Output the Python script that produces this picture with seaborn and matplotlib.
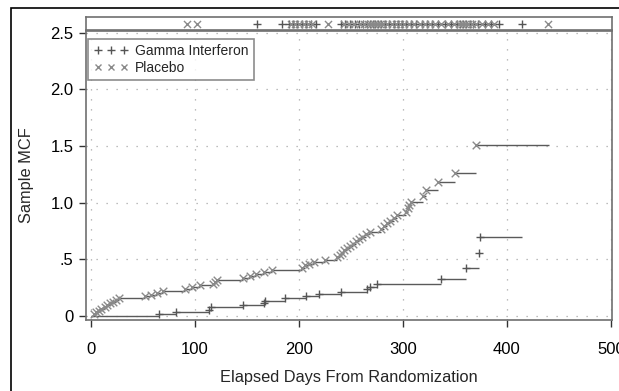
import matplotlib
matplotlib.use("Agg")
import pandas as pd
import matplotlib.pyplot as plt
import seaborn as sns
from matplotlib.lines import Line2D
from matplotlib.patches import Rectangle

# event times and sample MCF after each event
gamma_days = [65, 82, 113, 115, 146, 166, 167, 187, 207, 219, 240,
              265, 268, 275, 337, 361, 373, 374]
gamma_mcf = [0.017, 0.035, 0.056, 0.077, 0.097, 0.117, 0.137, 0.16, 0.18,
             0.195, 0.21, 0.235, 0.255, 0.28, 0.33, 0.42, 0.56, 0.70]
gamma_end = 414

placebo_days = [3, 5, 8, 10, 13, 15, 18, 21, 24, 27,
                52, 58, 63, 69,
                90, 97, 105,
                117, 119, 121,
                146, 153, 159, 166, 174,
                203, 206, 210, 214,
                225,
                237, 239, 241, 243, 246, 249, 252, 255, 258, 261, 264, 268,
                279, 282, 285, 288, 291, 294,
                303, 305, 306, 308,
                319, 322, 334, 350, 370]
placebo_mcf = [0.016, 0.032, 0.048, 0.064, 0.08, 0.096, 0.112, 0.128, 0.144, 0.16,
               0.175, 0.19, 0.205, 0.22,
               0.237, 0.253, 0.27,
               0.287, 0.304, 0.32,
               0.338, 0.356, 0.374, 0.392, 0.41,
               0.428, 0.446, 0.463, 0.48,
               0.498,
               0.518, 0.539, 0.56, 0.58, 0.6, 0.62, 0.64, 0.66, 0.68, 0.70, 0.722, 0.745,
               0.77, 0.794, 0.818, 0.842, 0.866, 0.89,
               0.92, 0.95, 0.98, 1.01,
               1.06, 1.11, 1.18, 1.26, 1.51]
placebo_end = 440

# end of follow-up (top strip)
gamma_censor = [160, 184, 190, 194, 198, 203, 207, 212, 216, 240, 244, 249,
                254, 258, 262, 265, 268, 271, 273, 276, 279, 283, 287, 291,
                295, 299, 303, 308, 313, 318, 323, 328, 334, 340, 346, 352,
                355, 358, 361, 364, 367, 372, 379, 385, 392, 414]
placebo_censor = [92, 102, 192, 196, 200, 205, 209, 213, 228, 243, 248, 253,
                  259, 263, 266, 269, 272, 275, 278, 281, 285, 289, 293, 297,
                  301, 306, 311, 316, 321, 326, 331, 337, 343, 349, 354, 357,
                  360, 363, 366, 370, 376, 382, 388, 439]

x_ticks = [0, 100, 200, 300, 400, 500]
y_ticks = [0, 0.5, 1.0, 1.5, 2.0, 2.5]
y_labels = ["0", ".5", "1.0", "1.5", "2.0", "2.5"]

LINE = "#5a5a5a"
G_COL = "#555555"
P_COL = "#8a8a8a"
FRAME = "#707070"


def steps(days, mcf, end):
    return pd.DataFrame({
        "start": [0] + days,
        "stop": days + [end],
        "level": [0.0] + mcf,
    })


def main():
    sns.set_theme(style="white")
    plt.rcParams["font.family"] = ["Liberation Sans", "DejaVu Sans"]

    fig = plt.figure(figsize=(6.19, 3.91), dpi=100)
    W, H = 619, 391

    ax = fig.add_axes([86 / W, 1 - 320 / H, 526 / W, 289 / H])
    top = fig.add_axes([86 / W, 1 - 30 / H, 526 / W, 13 / H], sharex=ax)

    # outer frame of the graph window
    fig.patches.append(Rectangle((11 / W, -0.1), 1.0, 1.1 - 8 / H,
                                 transform=fig.transFigure, fill=False,
                                 edgecolor="black", linewidth=1.2))

    g = steps(gamma_days, gamma_mcf, gamma_end)
    p = steps(placebo_days, placebo_mcf, placebo_end)
    ax.hlines(g["level"], g["start"], g["stop"], color=LINE, linewidth=1)
    ax.hlines(p["level"], p["start"], p["stop"], color=LINE, linewidth=1)

    sns.scatterplot(x=gamma_days, y=gamma_mcf, marker="+", s=36,
                    color=G_COL, linewidth=1, ax=ax, zorder=3)
    sns.scatterplot(x=placebo_days, y=placebo_mcf, marker="x", s=30,
                    color=P_COL, linewidth=1, ax=ax, zorder=3)

    ax.set_xlim(-4.8, 501)
    ax.set_ylim(-0.035, 2.515)
    ax.set_xticks(x_ticks)
    ax.set_yticks(y_ticks)
    ax.set_yticklabels(y_labels)
    ax.grid(True, color="#a8a8a8", linestyle=(0, (1, 7)), linewidth=0.9)
    for s in ax.spines.values():
        s.set_color(FRAME)
        s.set_linewidth(1.2)
    ax.tick_params(axis="both", direction="out", length=5, width=1,
                   color="#333333", labelsize=12, labelcolor="black")
    ax.tick_params(axis="x", pad=11)
    ax.tick_params(axis="y", pad=4)
    ax.tick_params(bottom=True, left=True)
    ax.set_xlabel("Elapsed Days From Randomization", fontsize=11.8, labelpad=9)
    ax.set_ylabel("Sample MCF", fontsize=11.8, labelpad=12)

    # strip with end-of-observation times
    sns.scatterplot(x=gamma_censor, y=[0.5] * len(gamma_censor), marker="+",
                    s=30, color=G_COL, linewidth=1, ax=top)
    sns.scatterplot(x=placebo_censor, y=[0.5] * len(placebo_censor),
                    marker="x", s=26, color=P_COL, linewidth=1, ax=top)
    top.set_ylim(0, 1)
    top.set_xlabel("")
    top.set_ylabel("")
    top.tick_params(left=False, bottom=False, labelleft=False,
                    labelbottom=False)
    for s in top.spines.values():
        s.set_color(FRAME)
        s.set_linewidth(1.2)

    handles = [
        Line2D([], [], marker="+", linestyle="none", color=G_COL,
               markersize=6, markeredgewidth=1),
        Line2D([], [], marker="x", linestyle="none", color=P_COL,
               markersize=5, markeredgewidth=1),
    ]
    leg = ax.legend(handles, ["Gamma Interferon", "Placebo"],
                    loc="upper left", bbox_to_anchor=(0.004, 0.974),
                    borderaxespad=0, numpoints=3, handlelength=2.5,
                    handletextpad=0.5, labelspacing=0.2, borderpad=0.4,
                    fontsize=10, frameon=True, fancybox=False)
    leg.get_frame().set_edgecolor(FRAME)
    leg.get_frame().set_linewidth(1.2)

    fig.savefig("out.png", dpi=100)
    plt.close(fig)


if __name__ == "__main__":
    main()
